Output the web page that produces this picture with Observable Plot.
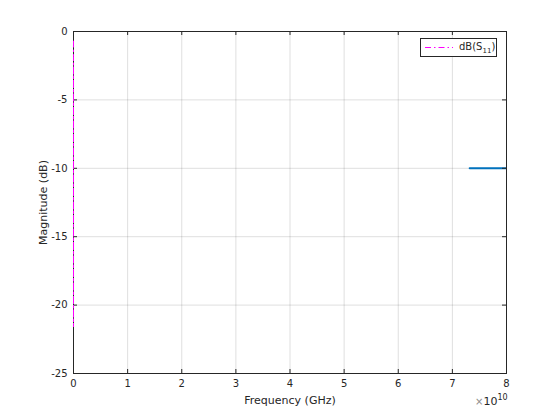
<!DOCTYPE html>
<html><head><meta charset="utf-8">
<script src="https://cdn.jsdelivr.net/npm/d3@7"></script>
<script src="https://cdn.jsdelivr.net/npm/@observablehq/plot@0.6"></script>
<style>
body{margin:0;background:#fff;}
#wrap{position:relative;width:560px;height:420px;font-family:"DejaVu Sans",sans-serif;color:#262626;}
#legend{position:absolute;left:420px;top:38px;width:75px;height:17px;border:1px solid #262626;background:#fff;display:flex;align-items:center;font-size:10px;}
#legend svg{margin-left:4px;margin-right:6px;}
#expo{position:absolute;left:475px;top:393px;font-size:11px;}
#expo .x{color:#8c8c8c;font-size:10px;}
#expo sup{font-size:8px;}
</style></head><body><div id="wrap"></div>
<script>
// Data
const xTicks = [0, 1e10, 2e10, 3e10, 4e10, 5e10, 6e10, 7e10, 8e10];
const yTicks = [-25, -20, -15, -10, -5, 0];
// S11 (frequency in GHz, plotted against an Hz axis -> collapses onto x = 0)
const s11Freq = [1, 2, 3, 4, 5, 6, 7, 8, 9, 10];
const s11dB = [-0.7, -1.8, -3.5, -6.2, -10.4, -21.6, -12.8, -7.1, -4.0, -2.3];
// -10 dB reference segment
const refFreq = [7.32e10, 8e10];
const refdB = [-10, -10];

const s11 = s11Freq.map((f, i) => ({f, v: s11dB[i]}));
const ref = refFreq.map((f, i) => ({f, v: refdB[i]}));

const W = 560, H = 420, mL = 73, mR = 54, mT = 31, mB = 47;
const ph = H - mT - mB, pw = W - mL - mR, tk = 4;
const ink = "#262626";

const chart = Plot.plot({
  width: W, height: H,
  marginLeft: mL, marginRight: mR, marginTop: mT, marginBottom: mB,
  style: {fontFamily: "DejaVu Sans, sans-serif", fontSize: "10px", color: ink, background: "#fff"},
  x: {domain: [0, 8e10]},
  y: {domain: [-25, 0]},
  marks: [
    Plot.gridX(xTicks, {stroke: ink, strokeOpacity: 0.15}),
    Plot.gridY(yTicks, {stroke: ink, strokeOpacity: 0.15}),
    Plot.line(ref, {x: "f", y: "v", stroke: "#0072BD", strokeWidth: 2, clip: true}),
    Plot.frame({stroke: ink}),
    Plot.tickX(xTicks, {x: d => d, stroke: ink, insetTop: ph - tk}),
    Plot.tickX(xTicks, {x: d => d, stroke: ink, insetBottom: ph - tk}),
    Plot.tickY(yTicks, {y: d => d, stroke: ink, insetRight: pw - tk}),
    Plot.tickY(yTicks, {y: d => d, stroke: ink, insetLeft: pw - tk}),
    Plot.axisX(xTicks, {anchor: "bottom", tickSize: 0, tickPadding: 6, tickFormat: d => String(d / 1e10),
      label: "Frequency (GHz)", labelAnchor: "center", labelArrow: "none", labelOffset: 30, fontSize: 10}),
    Plot.axisY(yTicks, {anchor: "left", tickSize: 0, tickPadding: 6, tickFormat: d => String(d),
      label: "Magnitude (dB)", labelAnchor: "center", labelArrow: "none", labelOffset: 34, fontSize: 10}),
    Plot.line(s11, {x: "f", y: "v", stroke: "#ff00ff", strokeWidth: 1, strokeDasharray: "6,3,1.5,3"})
  ]
});
chart.querySelectorAll("[aria-label$='axis label'] text").forEach(t => t.style.fontSize = "11px");

const wrap = document.getElementById("wrap");
wrap.appendChild(chart);

const lg = document.createElement("div");
lg.id = "legend";
lg.innerHTML = `<svg width="28" height="7"><line x1="0" y1="3.5" x2="28" y2="3.5" stroke="#ff00ff" stroke-width="1" stroke-dasharray="6,3,1.5,3"/></svg><span>dB(S<sub style="font-size:7px">11</sub>)</span>`;
wrap.appendChild(lg);

const ex = document.createElement("div");
ex.id = "expo";
ex.innerHTML = `<span class="x">×</span>10<sup>10</sup>`;
wrap.appendChild(ex);
</script>
</body></html>
